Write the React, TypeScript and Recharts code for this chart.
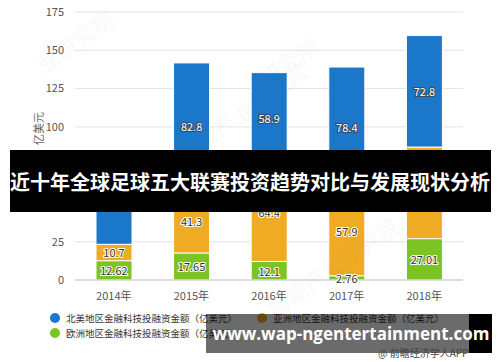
import React from 'react';
import { BarChart, Bar, XAxis, YAxis, CartesianGrid, LabelList } from 'recharts';

const years = ['2014年', '2015年', '2016年', '2017年', '2018年'];
const europe = [12.62, 17.65, 12.1, 2.76, 27.01];
const asia = [10.7, 41.3, 64.4, 57.9, 59.8];
const northAmerica = [55.7, 82.8, 58.9, 78.4, 72.8];
const yTicks = [0, 25, 50, 75, 100, 125, 150, 175];

const title = '近十年全球足球五大联赛投资趋势对比与发展现状分析';
const siteText = 'www.wap-ngentertainment.com';
const sourceText = '@ 前瞻经济学人APP';
const unitText = '单位：亿美元';

const series = [
  { key: 'europe', name: '欧洲地区金融科技投融资金额（亿美元）', color: '#7cc424', lightText: false },
  { key: 'asia', name: '亚洲地区金融科技投融资金额（亿美元）', color: '#f0ab24', lightText: false },
  { key: 'northAmerica', name: '北美地区金融科技投融资金额（亿美元）', color: '#1a77c9', lightText: true },
];

const data = years.map((year, i) => ({
  year,
  europe: europe[i],
  asia: asia[i],
  northAmerica: northAmerica[i],
}));

const FONT = '"Noto Sans CJK SC", "Noto Sans", sans-serif';

const makeLabel = (lightText: boolean) => (props: any) => {
  const { x, y, width, height, value } = props;
  return (
    <text
      x={Number(x) + Number(width) / 2}
      y={Number(y) + Number(height) / 2}
      textAnchor="middle"
      dominantBaseline="central"
      fontSize={11}
      fontFamily={FONT}
      fill={lightText ? '#fff' : '#333'}
      stroke={lightText ? '#3a4a5a' : '#fff'}
      strokeWidth={2}
      paintOrder="stroke"
    >
      {value}
    </text>
  );
};

// legend rows: [left, right]
const legendItems = [
  { s: series[2], x: 55, y: 318 },
  { s: series[1], x: 262, y: 318 },
  { s: series[0], x: 55, y: 333 },
];

const watermarks = [
  { x: 30, y: 25, t: '业研究院' },
  { x: 165, y: 95, t: '前瞻产业研究院' },
  { x: 255, y: 45, t: '研究院' },
  { x: 255, y: 250, t: '前瞻产业研究院' },
];

export default function App() {
  return (
    <div
      style={{
        position: 'absolute',
        left: 0,
        top: 0,
        width: 500,
        height: 362,
        background: '#fff',
        overflow: 'hidden',
        fontFamily: FONT,
      }}
    >
      <BarChart
        width={500}
        height={362}
        data={data}
        margin={{ top: 12, right: 37, bottom: 52, left: 15 }}
        barSize={36}
      >
        <CartesianGrid vertical={false} stroke="#e3e3e3" />
        <XAxis
          dataKey="year"
          height={30}
          tickLine={false}
          axisLine={{ stroke: '#c8c8c8' }}
          tickMargin={6}
          tick={{ fontSize: 11, fill: '#555', fontFamily: FONT }}
        />
        <YAxis
          width={60}
          domain={[0, 175]}
          ticks={yTicks}
          tickLine={false}
          axisLine={false}
          tickMargin={5}
          tick={{ fontSize: 11, fill: '#555', fontFamily: FONT }}
        />
        {series.map((s) => (
          <Bar
            key={s.key}
            dataKey={s.key}
            name={s.name}
            stackId="a"
            fill={s.color}
            stroke="#fff"
            strokeWidth={1}
            isAnimationActive={false}
          >
            <LabelList dataKey={s.key} content={makeLabel(s.lightText)} />
          </Bar>
        ))}
      </BarChart>

      {/* unit label */}
      <div
        style={{
          position: 'absolute',
          left: 38,
          top: 145,
          transform: 'translate(-50%, -50%) rotate(-90deg)',
          fontSize: 11,
          color: '#666',
          whiteSpace: 'nowrap',
        }}
      >
        {unitText}
      </div>

      {/* faint watermarks */}
      {watermarks.map((w, i) => (
        <div
          key={i}
          style={{
            position: 'absolute',
            left: w.x,
            top: w.y,
            transform: 'rotate(-35deg)',
            fontSize: 22,
            fontWeight: 700,
            color: 'rgba(120,120,120,0.05)',
            whiteSpace: 'nowrap',
            pointerEvents: 'none',
          }}
        >
          {w.t}
        </div>
      ))}

      {/* legend */}
      {legendItems.map(({ s, x, y }) => (
        <div key={s.key} style={{ position: 'absolute', left: x - 5, top: y - 8, height: 16, display: 'flex', alignItems: 'center', whiteSpace: 'nowrap' }}>
          <span style={{ width: 10, height: 10, borderRadius: '50%', background: s.color, display: 'inline-block' }} />
          <span style={{ marginLeft: 6, fontSize: 9.5, color: '#333' }}>{s.name}</span>
        </div>
      ))}

      {/* top title band */}
      <div style={{ position: 'absolute', left: 10, top: 150, width: 481, height: 62, background: '#000' }} />
      <div style={{ position: 'absolute', left: 29, top: 150, width: 440, height: 62, background: 'rgba(0,0,0,0.58)' }} />
      <div style={{ position: 'absolute', left: 0, top: 150, width: 500, height: 62, display: 'flex', alignItems: 'center', justifyContent: 'center', color: '#fff', fontSize: 20, fontWeight: 700, whiteSpace: 'nowrap' }}>
        {title}
      </div>

      {/* bottom site band */}
      <div style={{ position: 'absolute', left: 469, top: 314, width: 23, height: 39, background: '#000' }} />
      <div style={{ position: 'absolute', left: 206, top: 314, width: 263, height: 39, background: 'rgba(0,0,0,0.58)' }} />
      <div style={{ position: 'absolute', left: 210, top: 314, width: 282, height: 39, display: 'flex', alignItems: 'center', justifyContent: 'center', color: '#fff', fontSize: 17, fontWeight: 700, fontFamily: '"Open Sans", sans-serif', whiteSpace: 'nowrap' }}>
        {siteText}
      </div>

      <div style={{ position: 'absolute', left: 378, top: 345, fontSize: 10, color: '#444', whiteSpace: 'nowrap' }}>
        {sourceText}
      </div>
    </div>
  );
}
